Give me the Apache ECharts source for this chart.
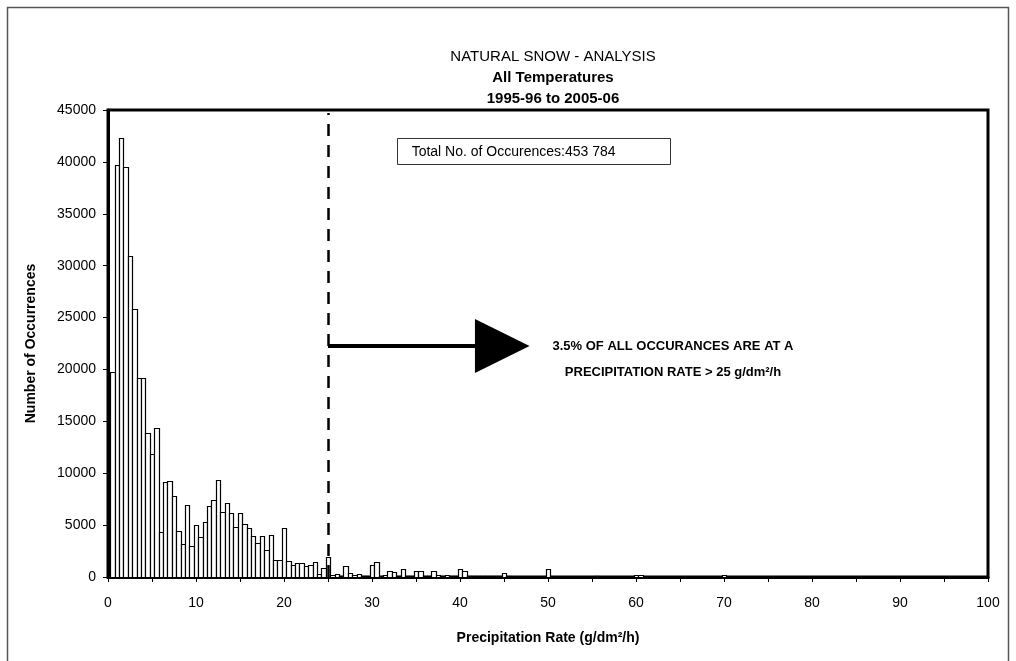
<!DOCTYPE html>
<html>
<head>
<meta charset="utf-8">
<script src="https://cdn.jsdelivr.net/npm/echarts@6/dist/echarts.min.js"></script>
<style>
html,body{margin:0;padding:0;background:#fff;}
#chart{width:1016px;height:661px;}
</style>
</head>
<body>
<div id="chart"></div>
<script>
// Bin centres (g/dm²/h) and occurrence counts
const rates = [0.5,1,1.5,2,2.5,3,3.5,4,4.5,5,5.5,6,6.5,7,7.5,8,8.5,9,9.5,10,
  10.5,11,11.5,12,12.5,13,13.5,14,14.5,15,15.5,16,16.5,17,17.5,18,18.5,19,19.5,20,
  20.5,21,21.5,22,22.5,23,23.5,24,24.5,25,25.5,26,26.5,27,27.5,28,28.5,29,29.5,30,
  30.5,31,31.5,32,32.5,33,33.5,34,34.5,35,35.5,36,36.5,37,37.5,38,38.5,39,39.5,40,
  40.5,41,41.5,42,42.5,43,43.5,44,44.5,45,45.5,46,47,48,49,50,51,52,55.5,60,60.5,65,70];
const counts = [19770,39700,42350,39500,30960,25800,19200,19200,13900,11830,14360,4360,9160,9290,7820,4450,3140,6980,2940,5000,
  3830,5290,6810,7390,9310,6250,7170,6150,4770,6210,5090,4710,3940,3300,3940,2600,4000,1660,1630,4740,
  1500,1120,1350,1370,1090,1120,1400,290,850,1900,220,330,120,1060,410,220,320,80,60,1150,
  1470,120,220,580,480,120,770,80,60,610,580,100,60,580,220,100,220,80,80,730,
  610,80,60,60,50,50,60,50,50,410,50,40,40,40,30,800,30,30,100,200,200,40,150];
const yTicks = {min:0, max:45000, interval:5000};
const xTicks = {min:0, max:100, interval:5, labelEvery:10};
const thresholdRate = 25;
const titleLines = ['NATURAL SNOW - ANALYSIS','All Temperatures','1995-96 to 2005-06'];
const totalText = 'Total No. of Occurences:453 784';
const noteLines = ['3.5% OF ALL OCCURANCES ARE AT A','PRECIPITATION RATE > 25 g/dm²/h'];

const FONT = '"Liberation Sans", Arial, Helvetica, sans-serif';
const binHalf = 0.25;
const data = rates.map((r,i)=>[r,counts[i]]);

const chart = echarts.init(document.getElementById('chart'), null, {renderer:'canvas'});
const gridL=108, gridT=110, gridR=28, gridB=84;
const option = {
  animation:false,
  backgroundColor:'#fff',
  title:[
    {text:titleLines[0], left:548, top:44, textAlign:'center',
     textStyle:{fontFamily:FONT,fontSize:15,fontWeight:'normal',color:'#000'}},
    {text:titleLines[1], left:548, top:65, textAlign:'center',
     textStyle:{fontFamily:FONT,fontSize:15,fontWeight:'bold',color:'#000'}},
    {text:titleLines[2], left:548, top:86, textAlign:'center',
     textStyle:{fontFamily:FONT,fontSize:15,fontWeight:'bold',color:'#000'}}
  ],
  grid:{left:gridL, top:gridT, right:gridR, bottom:gridB, show:true, borderColor:'#000', borderWidth:3, backgroundColor:'transparent'},
  xAxis:{
    type:'value', min:xTicks.min, max:xTicks.max, interval:xTicks.interval,
    name:'Precipitation Rate (g/dm²/h)', nameLocation:'middle', nameGap:54,
    nameTextStyle:{fontFamily:FONT,fontSize:14,fontWeight:'bold',color:'#000'},
    axisLine:{show:true,lineStyle:{color:'#000',width:3}},
    axisTick:{show:true,length:5,lineStyle:{color:'#000',width:1}},
    axisLabel:{fontFamily:FONT,fontSize:14,color:'#000',margin:19,
      formatter:v=> (v % xTicks.labelEvery===0 ? String(v) : '')},
    splitLine:{show:false}
  },
  yAxis:{
    type:'value', min:yTicks.min, max:yTicks.max, interval:yTicks.interval,
    name:'Number of Occurrences', nameLocation:'middle', nameGap:70, nameRotate:90,
    nameTextStyle:{fontFamily:FONT,fontSize:14,fontWeight:'bold',color:'#000'},
    axisLine:{show:true,lineStyle:{color:'#000',width:3}},
    axisTick:{show:true,length:5,lineStyle:{color:'#000',width:1}},
    axisLabel:{fontFamily:FONT,fontSize:14,color:'#000',margin:12, formatter:v=>String(v)},
    splitLine:{show:false}
  },
  series:[
    {
      type:'custom', clip:true, z:2,
      data:data,
      renderItem:function(params, api){
        const x=api.value(0), y=api.value(1);
        const p0=api.coord([x-binHalf, y]);
        const p1=api.coord([x+binHalf, 0]);
        return {type:'rect', shape:{x:Math.round(p0[0])+0.5, y:Math.round(p0[1])+0.5,
          width:Math.round(p1[0])-Math.round(p0[0]), height:Math.round(p1[1])-Math.round(p0[1])},
          style:{fill:'#fff', stroke:'#000', lineWidth:1.2}};
      }
    },
    {
      type:'line', data:[], z:3,
      markLine:{silent:true, symbol:['none','none'], label:{show:false},
        lineStyle:{color:'#000', width:2.5, type:[12,9]},
        data:[[{coord:[thresholdRate, yTicks.min]},{coord:[thresholdRate, 44700]}]]}
    }
  ]
};
chart.setOption(option);

// Annotations anchored to data coordinates through the chart's own scales
const arrowY = 22250;
const a0 = chart.convertToPixel({gridIndex:0}, [thresholdRate, arrowY]);
const aBase = chart.convertToPixel({gridIndex:0}, [41.7, arrowY]);
const aTip = chart.convertToPixel({gridIndex:0}, [47.9, arrowY]);
const headTop = chart.convertToPixel({gridIndex:0}, [41.7, arrowY+2600]);
const headBot = chart.convertToPixel({gridIndex:0}, [41.7, arrowY-2600]);
const boxTL = chart.convertToPixel({gridIndex:0}, [32.8, 42300]);
const boxBR = chart.convertToPixel({gridIndex:0}, [63.8, 39830]);

chart.setOption({
  graphic:[
    {type:'rect', z:0, shape:{x:7.5,y:7.5,width:1001,height:700},
     style:{fill:'none',stroke:'#555',lineWidth:1.5}, silent:true},
    {type:'line', z:10, shape:{x1:a0[0], y1:a0[1], x2:aBase[0]+2, y2:aBase[1]},
     style:{stroke:'#000', lineWidth:4}},
    {type:'polygon', z:10, shape:{points:[[aBase[0],headTop[1]],[aTip[0],aTip[1]],[aBase[0],headBot[1]]]},
     style:{fill:'#000'}},
    {type:'rect', z:10, shape:{x:Math.round(boxTL[0])+0.5, y:Math.round(boxTL[1])+0.5,
      width:Math.round(boxBR[0]-boxTL[0]), height:Math.round(boxBR[1]-boxTL[1])},
     style:{fill:'#fff', stroke:'#333', lineWidth:1}},
    {type:'text', z:11, x:boxTL[0]+15, y:(boxTL[1]+boxBR[1])/2+1,
     style:{text:totalText, font:'14px '+FONT, fill:'#000', verticalAlign:'middle', align:'left'}},
    {type:'text', z:11, x:673, y:346,
     style:{text:noteLines[0], font:'bold 13px '+FONT, fill:'#000', verticalAlign:'middle', align:'center'}},
    {type:'text', z:11, x:673, y:372,
     style:{text:noteLines[1], font:'bold 13px '+FONT, fill:'#000', verticalAlign:'middle', align:'center'}}
  ]
});
</script>
</body>
</html>
